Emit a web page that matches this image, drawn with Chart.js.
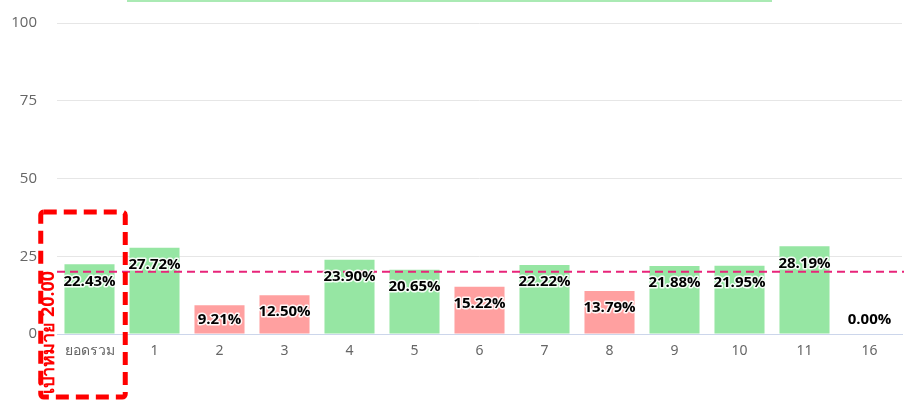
<!DOCTYPE html>
<html><head><meta charset="utf-8">
<script src="https://cdn.jsdelivr.net/npm/chart.js@4.4.0/dist/chart.umd.min.js"></script>
<style>html,body{margin:0;padding:0;background:#fff}#wrap{width:904px;height:402px}</style>
</head><body><div id="wrap"><canvas id="c" width="904" height="402"></canvas></div>
<script>
const categories = ['ยอดรวม','1','2','3','4','5','6','7','8','9','10','11','16'];
const values = [22.43, 27.72, 9.21, 12.50, 23.90, 20.65, 15.22, 22.22, 13.79, 21.88, 21.95, 28.19, 0.00];
const target = 20;
const targetLabel = 'เป้าหมาย 20.00';
const yTicks = [0, 25, 50, 75, 100];

const GREEN = 'rgb(150,230,163)';
const RED = 'rgb(255,160,160)';

const overlay = {
  id: 'overlay',
  afterDatasetsDraw(chart) {
    const {ctx, chartArea, scales: {x, y}} = chart;
    // target line
    const ty = y.getPixelForValue(target);
    ctx.save();
    ctx.strokeStyle = '#e8247a';
    ctx.lineWidth = 2;
    ctx.setLineDash([8, 5]);
    ctx.beginPath();
    ctx.moveTo(chartArea.left, ty);
    ctx.lineTo(chart.width, ty);
    ctx.stroke();
    ctx.restore();

    // value labels
    const meta = chart.getDatasetMeta(0);
    ctx.save();
    ctx.font = 'bold 15px "Open Sans", "DejaVu Sans", sans-serif';
    ctx.textAlign = 'center';
    ctx.textBaseline = 'middle';
    ctx.lineJoin = 'round';
    meta.data.forEach((bar, i) => {
      const base = y.getPixelForValue(0);
      const cy = Math.min(bar.y + 17, base - 14);
      const txt = values[i].toFixed(2) + '%';
      ctx.strokeStyle = 'rgba(255,255,255,0.9)';
      ctx.lineWidth = 3;
      ctx.strokeText(txt, bar.x, cy);
      ctx.fillStyle = '#000';
      ctx.fillText(txt, bar.x, cy);
    });
    ctx.restore();

    // highlight box around first category
    const cw = x.getPixelForValue(1) - x.getPixelForValue(0);
    const cx = x.getPixelForValue(0);
    const left = cx - 0.75 * cw, right = cx + 0.55 * cw;
    const top = y.getPixelForValue(39.2), bottom = chart.height - 5;
    ctx.save();
    ctx.strokeStyle = '#ff0000';
    ctx.lineWidth = 5;
    ctx.setLineDash([13, 7]);
    ctx.beginPath();
    if (ctx.roundRect) ctx.roundRect(left, top, right - left, bottom - top, 3);
    else ctx.rect(left, top, right - left, bottom - top);
    ctx.stroke();
    ctx.restore();

    // rotated target text
    ctx.save();
    ctx.translate(left + 8, y.getPixelForValue(20.3));
    ctx.rotate(-Math.PI / 2);
    ctx.font = 'bold 18px "Noto Sans", "DejaVu Sans", sans-serif';
    ctx.fillStyle = '#ff0000';
    ctx.textAlign = 'right';
    ctx.textBaseline = 'middle';
    ctx.fillText(targetLabel, 0, 0);
    ctx.restore();

    // top green strip
    ctx.save();
    ctx.fillStyle = 'rgb(170,234,180)';
    ctx.fillRect(127, 0, 645, 2);
    ctx.restore();
  }
};

new Chart(document.getElementById('c'), {
  type: 'bar',
  data: {
    labels: categories,
    datasets: [{
      data: values,
      backgroundColor: values.map(v => v >= target ? GREEN : RED),
      borderWidth: 0,
      barPercentage: 0.77,
      categoryPercentage: 1.0
    }]
  },
  options: {
    responsive: false,
    animation: false,
    layout: {padding: {top: 23, right: 2, left: 0, bottom: 0}},
    plugins: {legend: {display: false}, tooltip: {enabled: false}},
    scales: {
      x: {
        grid: {display: false, drawTicks: false},
        border: {display: true, color: '#ccd6eb', width: 1},
        ticks: {color: '#666', font: {size: 14, family: '"Noto Sans", "DejaVu Sans", sans-serif'}, padding: 9, maxRotation: 0},
        afterFit(s) { s.height = 68; s.paddingLeft = 0; s.paddingRight = 0; }
      },
      y: {
        min: 0, max: 100,
        afterBuildTicks(s) { s.ticks = yTicks.map(v => ({value: v})); },
        grid: {color: ctx => ctx.tick && ctx.tick.value === 0 ? '#ccd6eb' : '#e6e6e6', drawTicks: false},
        border: {display: false},
        ticks: {color: '#666', font: {size: 15, family: '"Open Sans", "DejaVu Sans", sans-serif'}, padding: 20},
        afterFit(s) { s.width = 57; s.paddingTop = 0; s.paddingBottom = 0; }
      }
    }
  },
  plugins: [overlay]
});
</script>
</body></html>
